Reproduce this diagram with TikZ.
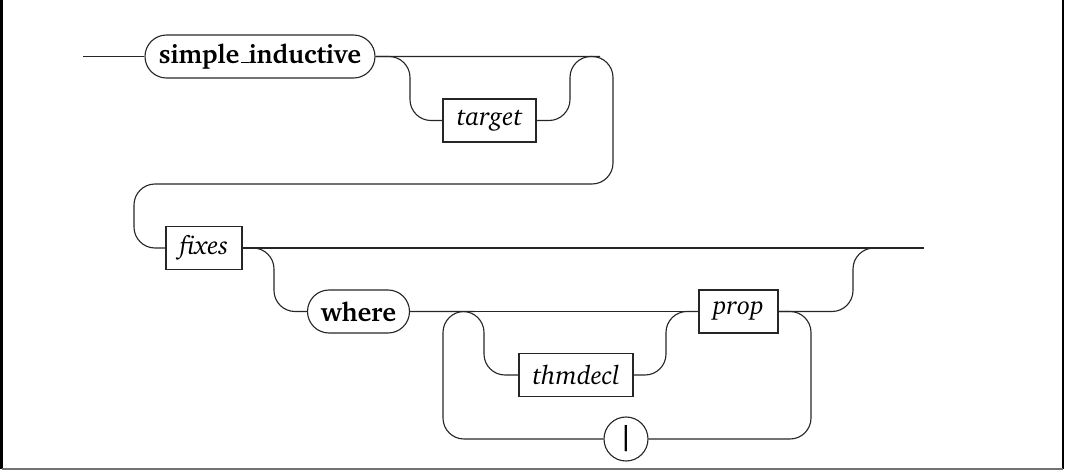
\documentclass[tikz,border=0pt]{standalone}
\usepackage[OT1]{fontenc}
\usepackage{charter}
\usetikzlibrary{shapes.misc}
\begin{document}
\begin{tikzpicture}[x=0.4pt,y=-0.4pt,line width=0.45pt,draw=black!85,
  txt/.style={font=\fontsize{10.5}{12}\selectfont},
  term/.style={draw,rounded rectangle,minimum height=17.2pt,inner sep=0pt,font=\fontsize{10.5}{12}\selectfont\bfseries},
  nonterm/.style={draw,rectangle,minimum height=17.2pt,inner sep=0pt,font=\fontsize{10.5}{12}\selectfont\itshape},
  rail/.style={draw,rounded corners=8.4pt},
  frame/.style={line width=0.8pt,draw=black}]
\useasboundingbox (0,0) rectangle (1065,473);
\draw[frame] (1.5,0) -- (1.5,468.5);
\draw[frame] (1063.2,0) -- (1063.2,468.5);
\draw[frame,draw=black!55] (1.5,468.5) -- (1063.2,468.5);
% nodes
\coordinate (start) at (83,56.5);
\node[term,minimum width=92pt] (si) at (260,56.5) {simple\_inductive};
\node[nonterm,minimum width=37.2pt] (tg) at (489.5,120.5) {target};
\node[nonterm,minimum width=30.4pt] (fx) at (204,248) {fixes};
\coordinate (end) at (924,248);
\node[term,minimum width=40.8pt] (wh) at (358.5,311.5) {where};
\node[nonterm,minimum width=31.6pt] (pr) at (738.5,311.5) {prop};
\node[nonterm,minimum width=45.6pt] (th) at (576,375) {thmdecl};
\node[draw,circle,minimum size=17.6pt,inner sep=0pt,txt] (bar) at (626,439) {\fontencoding{T1}\selectfont\bfseries|};
% row 1
\draw (start) -- (si);
\draw[rail] (si.east) -- (613,56.5) -- (613,184) -- (134,184) -- (134,248) -- (fx.west);
\draw[rail] (si.east) -- (410,56.5) -- (410,120.5) -- (tg.west);
\draw[rail] (tg.east) -- (570,120.5) -- (570,56.5) -- (600,56.5);
% row 2
\draw (fx.east) -- (end);
\draw[rail] (fx.east) -- (274,248) -- (274,311.5) -- (wh.west);
\draw (wh.east) -- (pr.west);
\draw[rail] (wh.east) -- (484,311.5) -- (484,375) -- (th.west);
\draw[rail] (th.east) -- (666,375) -- (666,311.5) -- (pr.west);
\draw[rail] (pr.east) -- (853,311.5) -- (853,248) -- (890,248);
\draw[rail] (pr.east) -- (811,311.5) -- (811,439) -- (bar.east);
\draw[rail] (bar.west) -- (443,439) -- (443,311.5) -- (475,311.5);
\end{tikzpicture}
\end{document}
